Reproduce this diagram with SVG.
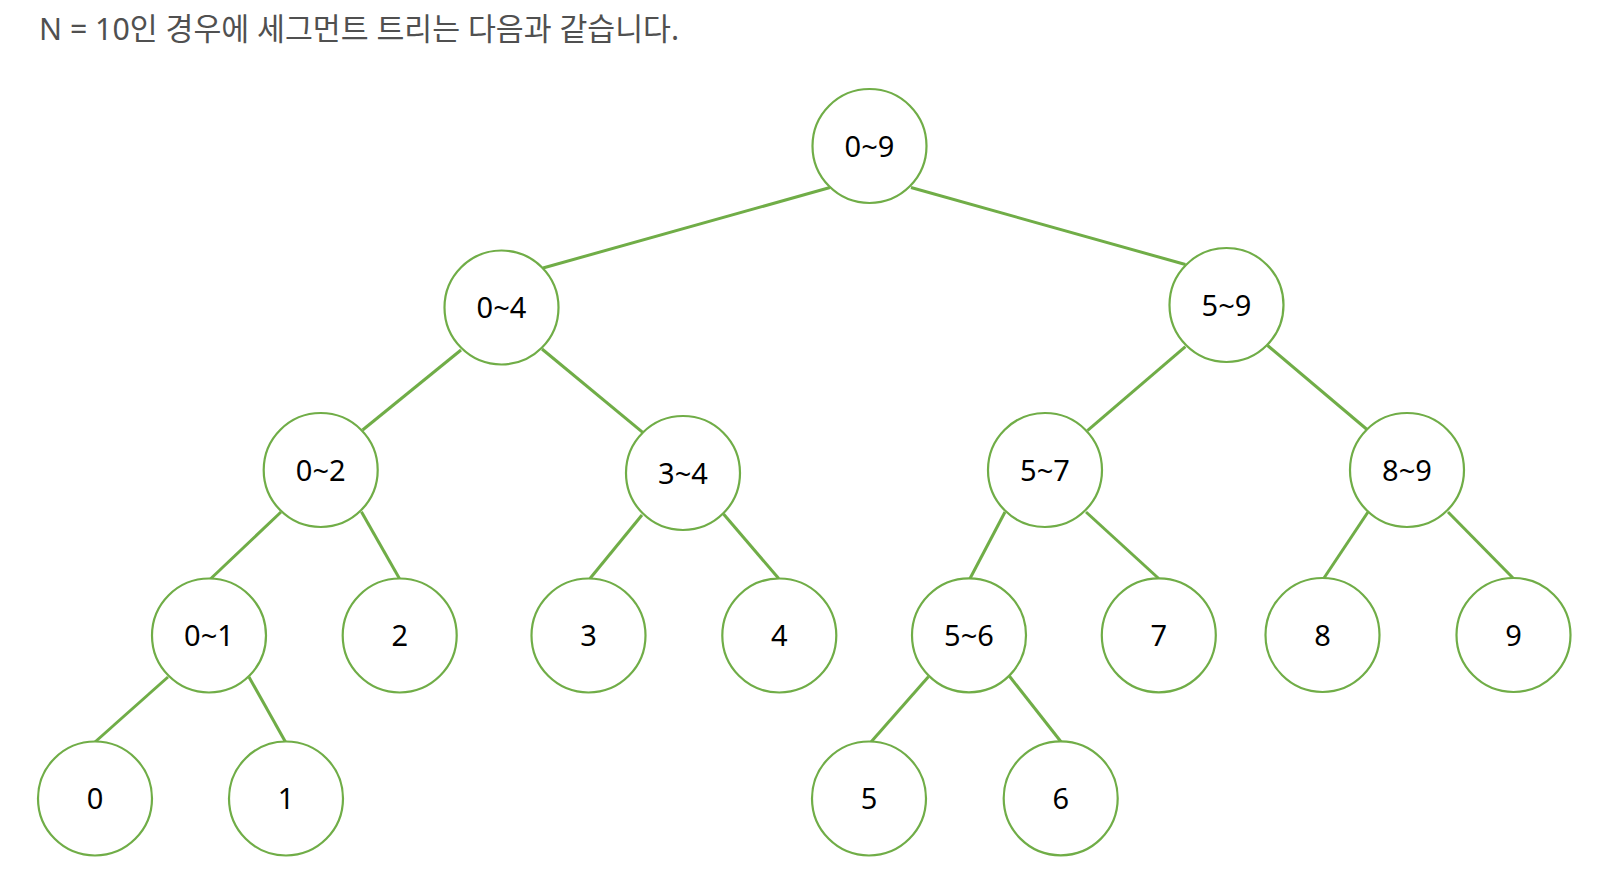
<svg xmlns="http://www.w3.org/2000/svg" width="1616" height="892" viewBox="0 0 1616 892">
<style>
.bg{fill:#ffffff}
.title{font-family:"Noto Sans","Noto Sans CJK KR",sans-serif;font-size:31px;fill:#505050}
.node circle{fill:#ffffff;stroke:#70ad47;stroke-width:2.2}
.node text{font-family:"Noto Sans","Liberation Sans",sans-serif;font-size:29px;fill:#000000;text-anchor:middle}
.edges line{stroke:#70ad47;stroke-width:3;stroke-linecap:butt}
</style>
<rect class="bg" x="0" y="0" width="1616" height="892"/>
<text class="title" x="39" y="40" textLength="640" lengthAdjust="spacingAndGlyphs">N = 10인 경우에 세그먼트 트리는 다음과 같습니다.</text>
<g id="connectors" class="edges">
<line x1="830" y1="187.5" x2="543" y2="268"/>
<line x1="911" y1="187.5" x2="1185.4" y2="264.5"/>
<line x1="461" y1="350" x2="362.6" y2="430"/>
<line x1="542" y1="349" x2="643" y2="432.7"/>
<line x1="1185.4" y1="346.7" x2="1087.4" y2="430.7"/>
<line x1="1267.6" y1="345.5" x2="1367.6" y2="430"/>
<line x1="281" y1="512" x2="210.4" y2="579"/>
<line x1="361.4" y1="511.7" x2="399.4" y2="578.5"/>
<line x1="642" y1="515" x2="590" y2="578.5"/>
<line x1="723.5" y1="514" x2="778.7" y2="578.5"/>
<line x1="1005" y1="512" x2="970" y2="578.5"/>
<line x1="1086" y1="512" x2="1158.7" y2="578.5"/>
<line x1="1368" y1="512" x2="1324" y2="578"/>
<line x1="1448" y1="512" x2="1513" y2="578"/>
<line x1="168" y1="677" x2="95" y2="742"/>
<line x1="249" y1="677" x2="285.5" y2="742"/>
<line x1="928.4" y1="676.7" x2="871" y2="742"/>
<line x1="1009.3" y1="676" x2="1061" y2="741.7"/>
</g>
<g id="n0-9" class="node"><circle cx="869.5" cy="146" r="57"/><text x="869.5" y="156.5">0~9</text></g>
<g id="n0-4" class="node"><circle cx="501.5" cy="307.5" r="57"/><text x="501.5" y="318">0~4</text></g>
<g id="n5-9" class="node"><circle cx="1226.5" cy="305" r="57"/><text x="1226.5" y="315.5">5~9</text></g>
<g id="n0-2" class="node"><circle cx="320.7" cy="470" r="57"/><text x="320.7" y="480.5">0~2</text></g>
<g id="n3-4" class="node"><circle cx="683" cy="473" r="57"/><text x="683" y="483.5">3~4</text></g>
<g id="n5-7" class="node"><circle cx="1045" cy="470" r="57"/><text x="1045" y="480.5">5~7</text></g>
<g id="n8-9" class="node"><circle cx="1407" cy="470" r="57"/><text x="1407" y="480.5">8~9</text></g>
<g id="n0-1" class="node"><circle cx="209" cy="635.5" r="57"/><text x="209" y="646">0~1</text></g>
<g id="n2" class="node"><circle cx="399.7" cy="635.5" r="57"/><text x="399.7" y="646">2</text></g>
<g id="n3" class="node"><circle cx="588.5" cy="635.5" r="57"/><text x="588.5" y="646">3</text></g>
<g id="n4" class="node"><circle cx="779.3" cy="635.5" r="57"/><text x="779.3" y="646">4</text></g>
<g id="n5-6" class="node"><circle cx="969" cy="635.3" r="57"/><text x="969" y="645.8">5~6</text></g>
<g id="n7" class="node"><circle cx="1158.8" cy="635.3" r="57"/><text x="1158.8" y="645.8">7</text></g>
<g id="n8" class="node"><circle cx="1322.5" cy="635" r="57"/><text x="1322.5" y="645.5">8</text></g>
<g id="n9" class="node"><circle cx="1513.5" cy="635" r="57"/><text x="1513.5" y="645.5">9</text></g>
<g id="n0" class="node"><circle cx="95" cy="798.5" r="57"/><text x="95" y="809">0</text></g>
<g id="n1" class="node"><circle cx="286" cy="798.5" r="57"/><text x="286" y="809">1</text></g>
<g id="n5" class="node"><circle cx="869" cy="798.5" r="57"/><text x="869" y="809">5</text></g>
<g id="n6" class="node"><circle cx="1060.7" cy="798.3" r="57"/><text x="1060.7" y="808.8">6</text></g>
</svg>
